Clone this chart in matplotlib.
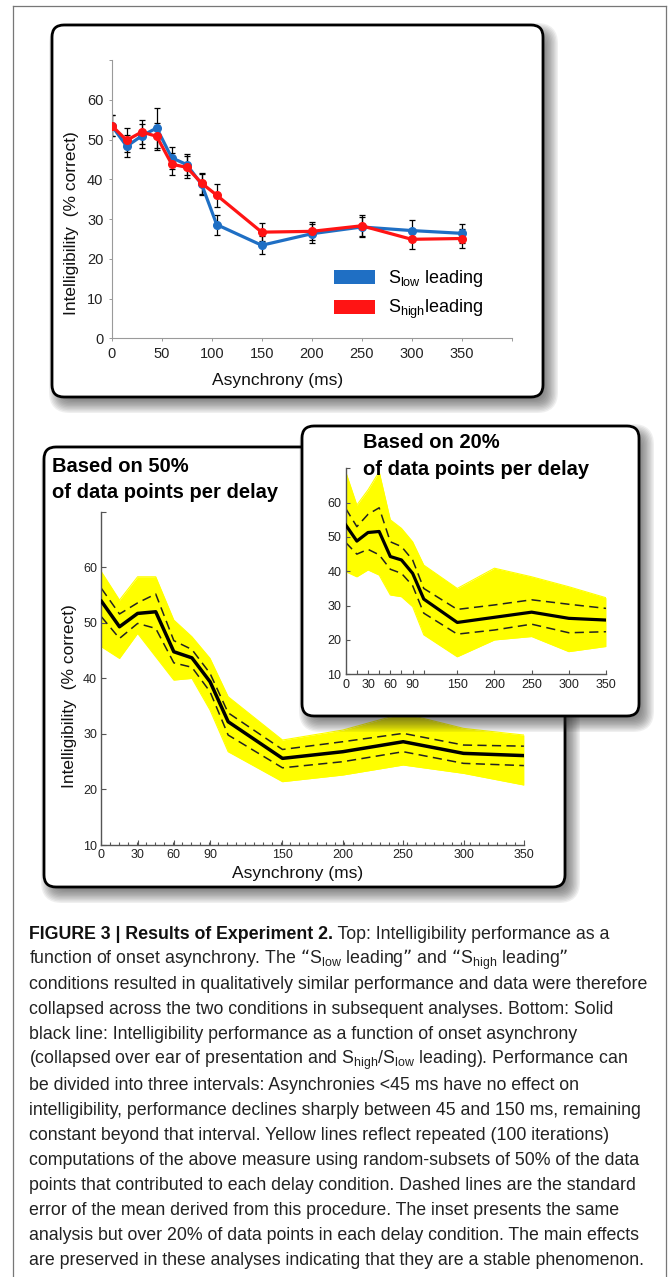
import numpy as np
import matplotlib
matplotlib.use('Agg')
import matplotlib.pyplot as plt
from matplotlib.patches import FancyBboxPatch, Patch

W, H = 669, 1277

# ---------------- data ----------------
delays = [0, 15, 30, 45, 60, 75, 90, 105, 150, 200, 250, 300, 350]

# top panel: intelligibility (% correct) per leading condition
slow_leading = [53.5, 48.3, 50.9, 52.9, 45.4, 43.7, 38.7, 28.6, 23.4, 26.3, 28.0, 27.1, 26.4]
slow_err = [2.7, 2.8, 3.0, 5.0, 2.8, 2.6, 2.6, 2.5, 2.3, 2.4, 2.6, 2.6, 2.4]
shigh_leading = [53.5, 49.8, 51.9, 50.8, 43.8, 43.0, 39.0, 36.0, 26.7, 26.9, 28.3, 24.9, 25.1]
shigh_err = [2.7, 3.0, 3.0, 3.4, 2.7, 2.8, 2.7, 2.9, 2.3, 2.3, 2.6, 2.5, 2.4]

# bottom panel: 50% subsets
mean50 = [53.9, 49.3, 51.7, 52.0, 44.8, 43.7, 39.4, 32.2, 25.6, 26.8, 28.6, 26.5, 26.1]
sem50_hi = [56.2, 51.6, 53.6, 55.2, 46.8, 45.2, 40.9, 33.8, 27.2, 28.6, 30.1, 28.0, 27.8]
sem50_lo = [51.1, 47.2, 49.9, 49.0, 42.8, 42.0, 37.6, 29.8, 23.9, 25.0, 26.8, 24.7, 24.3]
iter50_max = [59.2, 54.1, 58.3, 58.3, 50.5, 47.5, 43.6, 36.7, 28.9, 30.7, 33.7, 31.0, 29.8]
iter50_min = [45.7, 43.6, 48.1, 43.9, 39.7, 40.0, 34.3, 26.8, 21.4, 22.6, 24.4, 22.9, 20.8]

# inset: 20% subsets
mean20 = [53.5, 48.8, 51.3, 51.6, 44.3, 43.3, 39.4, 31.9, 25.1, 26.6, 28.1, 26.3, 25.8]
sem20_hi = [58.3, 53.0, 56.6, 58.5, 48.6, 47.2, 43.3, 35.0, 28.9, 30.2, 31.7, 30.4, 29.2]
sem20_lo = [48.4, 45.0, 46.4, 44.8, 40.6, 39.4, 35.8, 27.8, 21.7, 22.9, 24.6, 22.1, 22.4]
iter20_max = [69.0, 59.3, 63.7, 69.0, 55.0, 52.5, 48.6, 41.8, 35.0, 40.9, 38.4, 35.5, 32.3]
iter20_min = [39.9, 38.4, 40.4, 38.9, 33.1, 32.6, 29.7, 21.5, 15.1, 20.0, 21.0, 16.6, 18.1]

top_xticks = [0, 50, 100, 150, 200, 250, 300, 350, 400]
top_yticks = [0, 10, 20, 30, 40, 50, 60, 70]
bot_xticks = [0, 30, 60, 90, 150, 200, 250, 300, 350]
bot_yticks = [10, 20, 30, 40, 50, 60, 70]
inset_xticks = [0, 15, 30, 45, 60, 75, 90, 105, 150, 200, 250, 300, 350]
inset_xlabels = ['0', '', '30', '', '60', '', '90', '', '150', '200', '250', '300', '350']

caption_bold = 'FIGURE 3 | Results of Experiment 2.'
caption_lines = [
    ' Top: Intelligibility performance as a',
    'function of onset asynchrony. The \u201c$\\mathregular{S_{low}}$ leading\u201d and \u201c$\\mathregular{S_{high}}$ leading\u201d',
    'conditions resulted in qualitatively similar performance and data were therefore',
    'collapsed across the two conditions in subsequent analyses. Bottom: Solid',
    'black line: Intelligibility performance as a function of onset asynchrony',
    '(collapsed over ear of presentation and $\\mathregular{S_{high}}$/$\\mathregular{S_{low}}$ leading). Performance can',
    'be divided into three intervals: Asynchronies <45 ms have no effect on',
    'intelligibility, performance declines sharply between 45 and 150 ms, remaining',
    'constant beyond that interval. Yellow lines reflect repeated (100 iterations)',
    'computations of the above measure using random-subsets of 50% of the data',
    'points that contributed to each delay condition. Dashed lines are the standard',
    'error of the mean derived from this procedure. The inset presents the same',
    'analysis but over 20% of data points in each delay condition. The main effects',
    'are preserved in these analyses indicating that they are a stable phenomenon.',
]

# ---------------- style ----------------
plt.rcParams['font.family'] = ['Liberation Sans', 'DejaVu Sans']
CAP_SIZE = 12.8

BLUE = '#1f6fc4'
RED = '#ff1414'
YELLOW = '#ffff00'

fig = plt.figure(figsize=(W / 100, H / 100), dpi=100)


def frac(x0, y0, x1, y1):
    return [x0 / W, 1 - y1 / H, (x1 - x0) / W, (y1 - y0) / H]


def pixel_axes(z):
    a = fig.add_axes([0, 0, 1, 1], zorder=z)
    a.set_xlim(0, W)
    a.set_ylim(H, 0)
    a.axis('off')
    a.patch.set_alpha(0)
    return a


def panel(a, x0, y0, x1, y1, r=12):
    # soft drop shadow
    dx, dy, blur, n = 6, 7, 9, 14
    for i in range(n):
        e = blur * (1 - 2 * i / (n - 1))
        a.add_patch(FancyBboxPatch((x0 + dx - e, y0 + dy - e), (x1 - x0) + 2 * e, (y1 - y0) + 2 * e,
                                   boxstyle=f'round,pad=0,rounding_size={r + max(e, 0)}',
                                   facecolor='#2a2a2a', edgecolor='none', alpha=0.07))
    a.add_patch(FancyBboxPatch((x0, y0), x1 - x0, y1 - y0,
                               boxstyle=f'round,pad=0,rounding_size={r}',
                               facecolor='white', edgecolor='black', linewidth=2.0))


bg = pixel_axes(0)
# outer frame
bg.plot([13, 13], [6, H], color='#777777', lw=0.9)
bg.plot([666, 666], [6, H], color='#777777', lw=0.9)
bg.plot([13, 666], [6, 6], color='#777777', lw=0.9)
panel(bg, 52, 25, 543, 397)
panel(bg, 44, 447, 565, 887)
bg.text(51.5, 472.5, 'Based on 50%', fontsize=14.5, fontweight='bold', va='baseline')
bg.text(51.5, 497.5, 'of data points per delay', fontsize=14.5, fontweight='bold', va='baseline')

# ---------------- top panel ----------------
ax = fig.add_axes(frac(111.7, 60, 511.7, 338.3), zorder=1)
ax.patch.set_alpha(0)
ax.errorbar(delays, slow_leading, yerr=slow_err, fmt='none', ecolor='black', elinewidth=0.9,
            capsize=2.5, capthick=0.9, zorder=2)
ax.errorbar(delays, shigh_leading, yerr=shigh_err, fmt='none', ecolor='black', elinewidth=0.9,
            capsize=2.5, capthick=0.9, zorder=2)
ax.plot(delays, slow_leading, color=BLUE, lw=2.3, marker='o', ms=5.5, zorder=3)
ax.plot(delays, shigh_leading, color=RED, lw=2.3, marker='o', ms=5.5, zorder=4)
ax.set_xlim(0, 400)
ax.set_ylim(0, 70)
ax.set_xticks(top_xticks)
ax.set_xticklabels([str(v) if v <= 350 else '' for v in top_xticks])
ax.set_yticks(top_yticks)
ax.set_yticklabels([str(v) if v <= 60 else '' for v in top_yticks])
for s in ['top', 'right']:
    ax.spines[s].set_visible(False)
for s in ['left', 'bottom']:
    ax.spines[s].set_color('#9a9a9a')
    ax.spines[s].set_linewidth(0.8)
ax.tick_params(direction='out', length=2.5, width=0.7, color='#9a9a9a', labelsize=10.5,
               labelcolor='#222222', pad=3.5)
ax.set_xlabel('Asynchrony (ms)', fontsize=12.5, color='#111111')
ax.xaxis.set_label_coords(0.415, -0.150)
ax.xaxis.label.set_va('center')
ax.set_ylabel('Intelligibility  (% correct)', fontsize=12.5, color='#111111')
ax.yaxis.set_label_coords(-0.100, 0.413)
ax.yaxis.label.set_va('center')
leg = ax.legend(handles=[Patch(facecolor=BLUE, edgecolor='none'), Patch(facecolor=RED, edgecolor='none')],
                labels=['$\\mathregular{S_{low}}$ leading', '$\\mathregular{S_{high}}$leading'],
                loc='upper left', bbox_to_anchor=(0.555, 0.252), frameon=False, fontsize=13,
                handlelength=2.3, handleheight=0.85, handletextpad=0.7, labelspacing=0.5,
                borderpad=0, borderaxespad=0)

# ---------------- bottom main panel ----------------
am = fig.add_axes(frac(101.4, 511.8, 523.9, 845), zorder=1)
am.patch.set_alpha(0)
am.fill_between(delays, iter50_min, iter50_max, color=YELLOW, lw=0, zorder=1)
am.plot(delays, iter50_max, color=YELLOW, lw=0.8, zorder=1)
am.plot(delays, iter50_min, color=YELLOW, lw=0.8, zorder=1)
am.plot(delays, sem50_hi, color='#222222', lw=1.1, ls=(0, (6, 3.5)), zorder=2)
am.plot(delays, sem50_lo, color='#222222', lw=1.1, ls=(0, (6, 3.5)), zorder=2)
am.plot(delays, mean50, color='black', lw=2.5, zorder=3)
am.set_xlim(0, 350)
am.set_ylim(10, 70)
am.set_xticks(bot_xticks)
am.set_xticks(np.linspace(0, 350, 48), minor=True)
am.set_yticks(bot_yticks)
am.set_yticklabels([str(v) if v <= 60 else '' for v in bot_yticks])
for s in ['top', 'right']:
    am.spines[s].set_visible(False)
for s in ['left', 'bottom']:
    am.spines[s].set_color('#555555')
    am.spines[s].set_linewidth(1.0)
am.tick_params(which='major', direction='in', length=3.5, width=0.8, color='#555555', labelsize=9,
               labelcolor='#222222', pad=3.2)
am.tick_params(which='minor', direction='in', length=2.5, width=0.8, color='#555555')
am.tick_params(axis='y', which='minor', length=0)
am.set_xlabel('Asynchrony (ms)', fontsize=12.5, color='#111111')
am.xaxis.set_label_coords(0.465, -0.085)
am.xaxis.label.set_va('center')
am.set_ylabel('Intelligibility  (% correct)', fontsize=12.5, color='#111111')
am.yaxis.set_label_coords(-0.076, 0.448)
am.yaxis.label.set_va('center')

# ---------------- inset ----------------
bg2 = pixel_axes(2)
panel(bg2, 302, 426, 639, 716)
bg2.text(362.7, 448.3, 'Based on 20%', fontsize=14.5, fontweight='bold', va='baseline')

ai = fig.add_axes(frac(345.7, 468.3, 606, 674.3), zorder=3)
ai.patch.set_alpha(0)
ai.fill_between(delays, iter20_min, iter20_max, color=YELLOW, lw=0, zorder=1)
ai.plot(delays, iter20_max, color=YELLOW, lw=0.8, zorder=1)
ai.plot(delays, iter20_min, color=YELLOW, lw=0.8, zorder=1)
ai.plot(delays, sem20_hi, color='#222222', lw=1.1, ls=(0, (6, 3.5)), zorder=2)
ai.plot(delays, sem20_lo, color='#222222', lw=1.1, ls=(0, (6, 3.5)), zorder=2)
ai.plot(delays, mean20, color='black', lw=2.3, zorder=3)
ai.set_xlim(0, 350)
ai.set_ylim(10, 70)
ai.set_xticks(inset_xticks)
ai.set_xticklabels(inset_xlabels)
ai.set_yticks(bot_yticks)
ai.set_yticklabels([str(v) if v <= 60 else '' for v in bot_yticks])
for s in ['top', 'right']:
    ai.spines[s].set_visible(False)
for s in ['left', 'bottom']:
    ai.spines[s].set_color('#555555')
    ai.spines[s].set_linewidth(1.0)
ai.tick_params(direction='in', length=3.0, width=0.8, color='#555555', labelsize=9,
               labelcolor='#222222', pad=3.2)
ai.text(362.7, 475, 'of data points per delay', fontsize=14.5, fontweight='bold', va='baseline',
        transform=bg2.transData, zorder=5)

# ---------------- caption ----------------
renderer = fig.canvas.get_renderer()
base0, step = 939, 25.1
tb = bg.text(29, base0, caption_bold, fontsize=CAP_SIZE, fontweight='bold',
             va='baseline', color='#111111')
bb = tb.get_window_extent(renderer)
for i, line in enumerate(caption_lines):
    x = bb.x1 if i == 0 else 29
    bg.text(x, base0 + i * step, line, fontsize=CAP_SIZE, va='baseline', color='#222222')

fig.savefig('out.png', dpi=100)
